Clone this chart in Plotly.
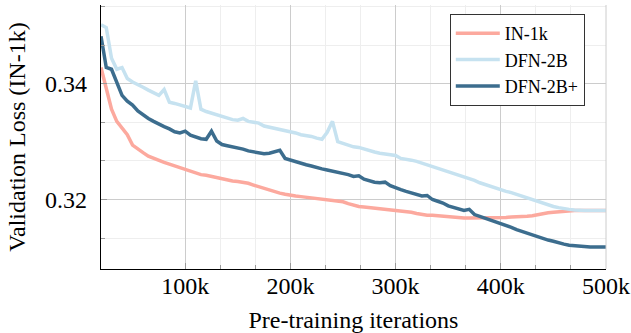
import plotly.graph_objects as go

iterations = [20000 + 5000 * i for i in range(97)]

in1k = [0.3428, 0.3394, 0.3356, 0.3335, 0.3323, 0.3312, 0.3294, 0.3287, 0.3281, 0.3275,
        0.3271, 0.3267, 0.3264, 0.3261, 0.3258, 0.3255, 0.3252, 0.3248, 0.3245, 0.3243,
        0.3242, 0.3240, 0.3238, 0.3235, 0.3233, 0.3232, 0.3231, 0.3230, 0.3228, 0.3225,
        0.3222, 0.3219, 0.3216, 0.3213, 0.3211, 0.3209, 0.3207, 0.3206, 0.3205, 0.3204,
        0.3203, 0.3202, 0.3201, 0.3200, 0.3199, 0.3198, 0.3196, 0.3193, 0.3190, 0.3188,
        0.3187, 0.3186, 0.3185, 0.3184, 0.3183, 0.3182, 0.3182, 0.3181, 0.3180, 0.3178,
        0.3176, 0.3174, 0.3173, 0.3173, 0.3172, 0.3171, 0.3170, 0.3169, 0.3168, 0.3168,
        0.3168, 0.3168, 0.3168, 0.3168, 0.3168, 0.3168, 0.3168, 0.3169, 0.3170, 0.3170,
        0.3170, 0.3171, 0.3172, 0.3174, 0.3176, 0.3177, 0.3178, 0.3179, 0.3180, 0.3181,
        0.3181, 0.3181, 0.3181, 0.3181, 0.3181, 0.3181, 0.3181]

dfn2b = [0.3502, 0.3497, 0.3444, 0.3425, 0.3428, 0.3409, 0.3403, 0.3399, 0.3394, 0.3389,
         0.3385, 0.3380, 0.3390, 0.3368, 0.3366, 0.3363, 0.3360, 0.3358, 0.3405, 0.3356,
         0.3352, 0.3349, 0.3347, 0.3344, 0.3341, 0.3338, 0.3337, 0.3340, 0.3335, 0.3333,
         0.3332, 0.3327, 0.3325, 0.3324, 0.3322, 0.3319, 0.3317, 0.3315, 0.3312, 0.3311,
         0.3309, 0.3306, 0.3304, 0.3316, 0.3335, 0.3300, 0.3297, 0.3294, 0.3291, 0.3290,
         0.3287, 0.3284, 0.3282, 0.3280, 0.3279, 0.3278, 0.3276, 0.3271, 0.3270, 0.3268,
         0.3266, 0.3263, 0.3260, 0.3257, 0.3255, 0.3252, 0.3248, 0.3245, 0.3242, 0.3240,
         0.3236, 0.3233, 0.3229, 0.3226, 0.3223, 0.3219, 0.3216, 0.3214, 0.3212, 0.3209,
         0.3205, 0.3202, 0.3199, 0.3196, 0.3193, 0.3190, 0.3188, 0.3186, 0.3184, 0.3183,
         0.3182, 0.3181, 0.3181, 0.3181, 0.3181, 0.3181, 0.3181]

dfn2b_plus = [0.3482, 0.3428, 0.3425, 0.3403, 0.3380, 0.3370, 0.3363, 0.3353, 0.3346, 0.3340,
              0.3335, 0.3330, 0.3326, 0.3322, 0.3317, 0.3315, 0.3318, 0.3311, 0.3308, 0.3305,
              0.3304, 0.3318, 0.3301, 0.3295, 0.3293, 0.3291, 0.3290, 0.3287, 0.3284, 0.3282,
              0.3280, 0.3279, 0.3280, 0.3282, 0.3285, 0.3271, 0.3268, 0.3266, 0.3263, 0.3260,
              0.3258, 0.3255, 0.3253, 0.3251, 0.3249, 0.3247, 0.3246, 0.3243, 0.3240, 0.3241,
              0.3235, 0.3232, 0.3230, 0.3229, 0.3230, 0.3224, 0.3220, 0.3217, 0.3214, 0.3211,
              0.3208, 0.3206, 0.3207, 0.3200, 0.3197, 0.3194, 0.3189, 0.3186, 0.3184, 0.3181,
              0.3183, 0.3174, 0.3171, 0.3168, 0.3165, 0.3162, 0.3159, 0.3155, 0.3152, 0.3148,
              0.3145, 0.3141, 0.3138, 0.3135, 0.3132, 0.3130, 0.3128, 0.3125, 0.3123, 0.3121,
              0.3120, 0.3119, 0.3118, 0.3118, 0.3118, 0.3118, 0.3118]

series_names = ["IN-1k", "DFN-2B", "DFN-2B+"]
series_colors = ["#fca99e", "#c6e2f0", "#3c6d8e"]

x_tickvals = [100000, 200000, 300000, 400000, 500000]
x_ticktext = ["100k", "200k", "300k", "400k", "500k"]
x_minor = [133333, 166667, 233333, 266667, 333333, 366667, 433333, 466667]
y_tickvals = [0.32, 0.34]
y_ticktext = ["0.32", "0.34"]
y_minor = [0.31333, 0.32667, 0.33333, 0.34667, 0.35333]

FONT = "Liberation Serif"

fig = go.Figure()
for name, vals, col in zip(series_names, [in1k, dfn2b, dfn2b_plus], series_colors):
    fig.add_trace(go.Scatter(x=iterations, y=vals, mode="lines", name=name,
                             line=dict(color=col, width=3.5)))

fig.update_layout(
    width=631, height=333,
    margin=dict(l=101, r=25, t=5, b=64, autoexpand=False),
    plot_bgcolor="white", paper_bgcolor="white",
    font=dict(family=FONT, color="black", size=24),
    legend=dict(x=0.958, y=0.966, xanchor="right", yanchor="top",
                bgcolor="white", bordercolor="#333", borderwidth=1,
                font=dict(family=FONT, size=18), itemwidth=44,
                tracegroupgap=0),
    showlegend=True,
)
fig.update_xaxes(
    range=[20000, 500000], tickmode="array", tickvals=x_tickvals, ticktext=x_ticktext,
    automargin=False,
    showline=True, linecolor="black", linewidth=1.3, mirror=False,
    ticks="inside", ticklen=6, tickcolor="#999", tickwidth=1,
    showgrid=True, gridcolor="#cccccc", gridwidth=1, zeroline=False,
    minor=dict(tickmode="array", tickvals=x_minor, ticks="inside", ticklen=4,
               tickcolor="#999", showgrid=True, gridcolor="#eeeeee", gridwidth=1),
    tickfont=dict(size=24, family=FONT), ticklabelstandoff=-5,
    title=dict(text="Pre-training iterations", font=dict(size=24, family=FONT), standoff=15),
)
fig.update_yaxes(
    range=[0.308, 0.3536], tickmode="array", tickvals=y_tickvals, ticktext=y_ticktext,
    automargin=False,
    showline=True, linecolor="black", linewidth=1.3, mirror=False,
    ticks="inside", ticklen=6, tickcolor="#999", tickwidth=1,
    showgrid=True, gridcolor="#cccccc", gridwidth=1, zeroline=False,
    minor=dict(tickmode="array", tickvals=y_minor, ticks="inside", ticklen=4,
               tickcolor="#999", showgrid=True, gridcolor="#eeeeee", gridwidth=1),
    tickfont=dict(size=24, family=FONT), ticklabelstandoff=8,
    title=dict(text="Validation Loss (IN-1k)", font=dict(size=24, family=FONT), standoff=12),
)
fig.add_shape(type="line", xref="paper", yref="paper", x0=1, x1=1, y0=0, y1=1,
              line=dict(color="#cccccc", width=1))

fig.write_html("out.html")
